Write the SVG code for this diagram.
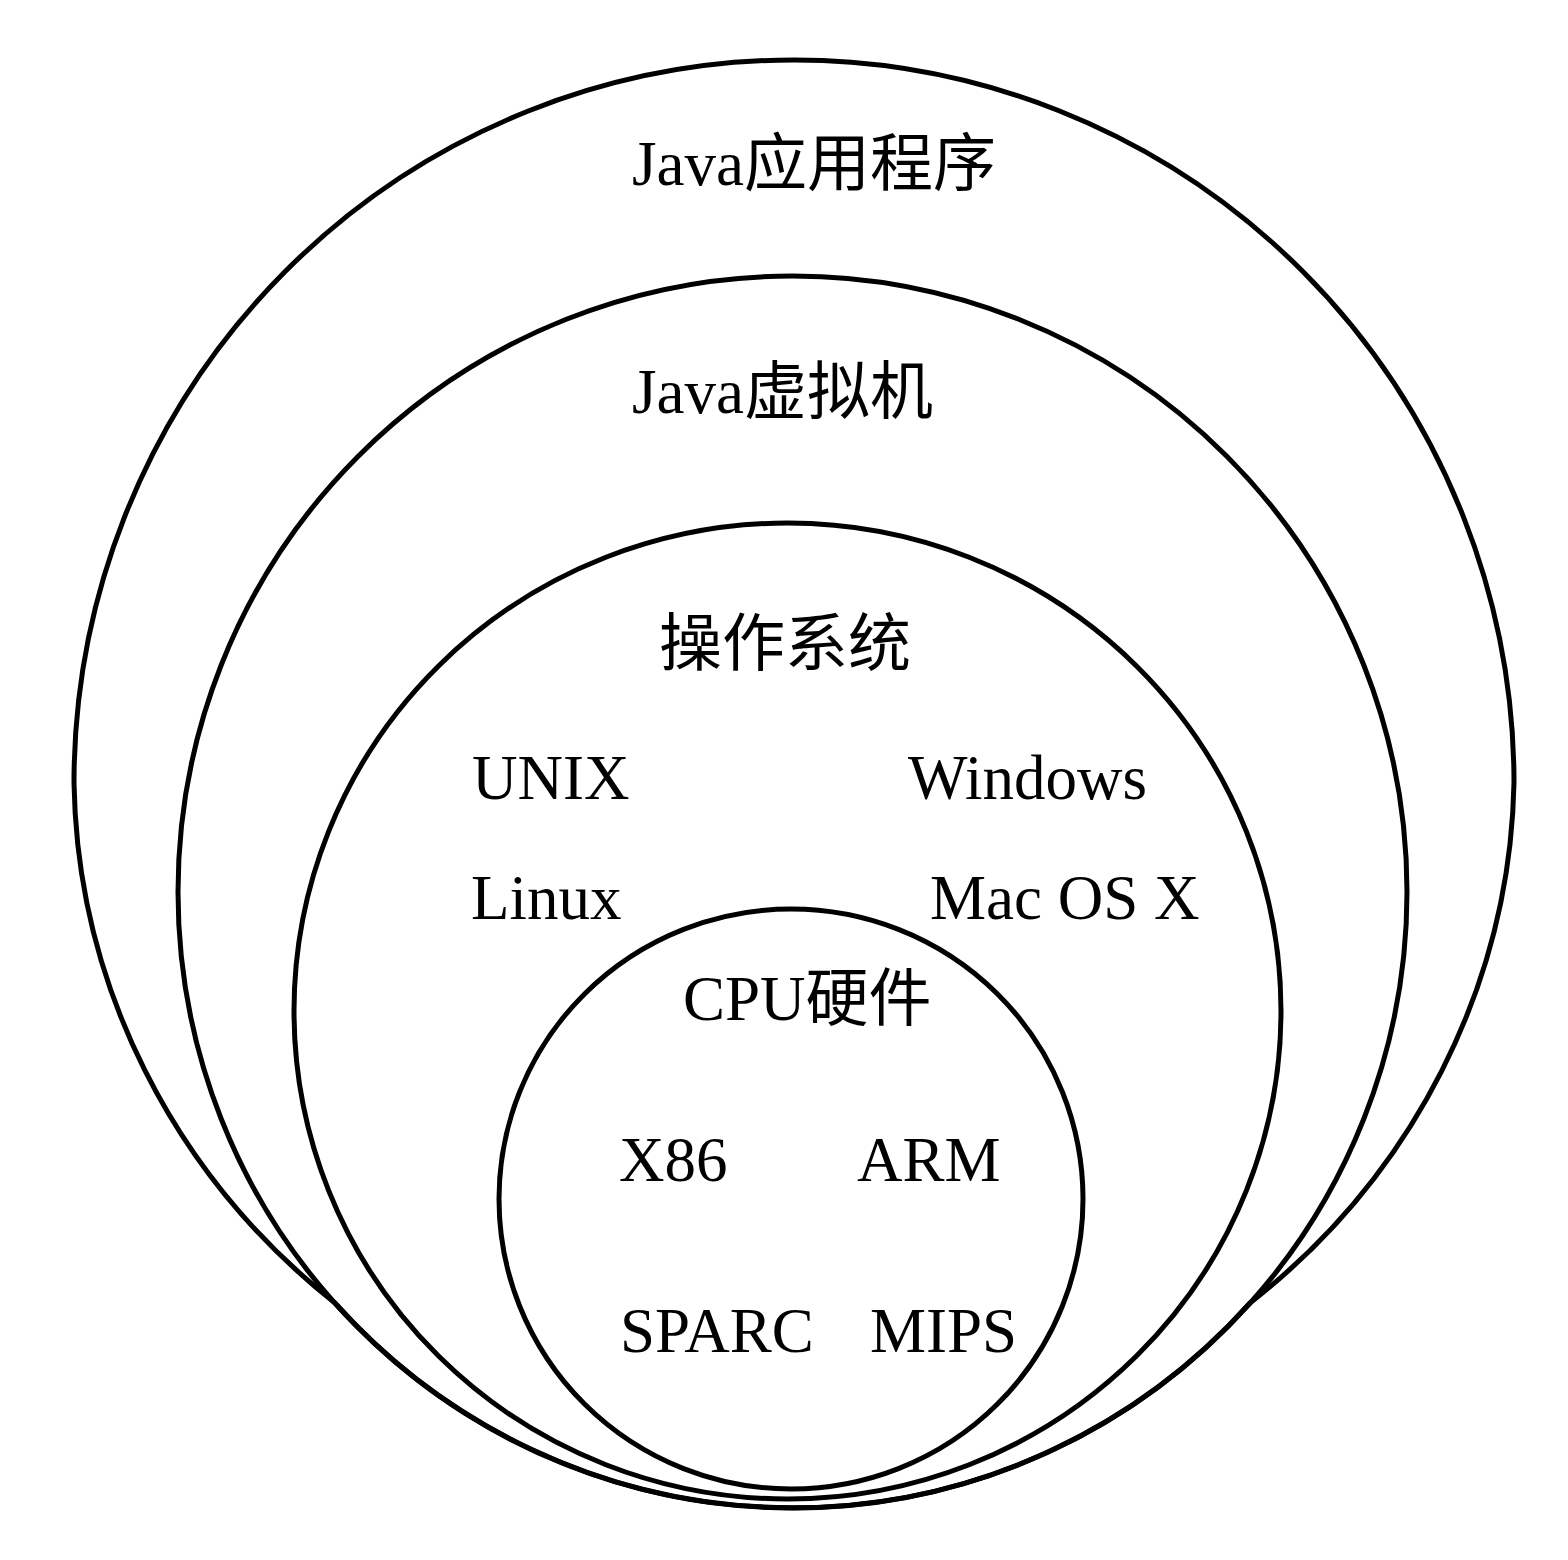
<svg xmlns="http://www.w3.org/2000/svg" width="1568" height="1560" viewBox="0 0 1568 1560">
<style>
.shape{fill:none;stroke:#000;stroke-width:5}
.lbl{font-family:"Liberation Serif","Noto Sans CJK SC",serif;font-size:63px;fill:#000}
</style>
<rect x="0" y="0" width="1568" height="1560" fill="#fff"/>
<g id="java-app">
<path class="shape" d="M 335,1303 A 720 689 0 0 1 74,783 A 720 723 0 0 1 794,60 A 720 723 0 0 1 1514,783 A 720 689 0 0 1 1250,1303 A 614.5 616 0 0 1 335,1303 Z"/>
<text class="lbl" x="632" y="185">Java应用程序</text>
</g>
<g id="jvm">
<ellipse class="shape" cx="792.5" cy="892" rx="614.5" ry="616"/>
<text class="lbl" x="632" y="413">Java虚拟机</text>
</g>
<g id="os">
<ellipse class="shape" cx="787.5" cy="1011" rx="493.5" ry="488"/>
<text class="lbl" x="659" y="665">操作系统</text>
<text class="lbl" x="472" y="799">UNIX</text>
<text class="lbl" x="908" y="799">Windows</text>
<text class="lbl" x="471" y="919">Linux</text>
<text class="lbl" x="930" y="919">Mac OS X</text>
</g>
<g id="cpu">
<ellipse class="shape" cx="791" cy="1199" rx="292" ry="290"/>
<text class="lbl" x="683" y="1020">CPU硬件</text>
<text class="lbl" x="619" y="1181">X86</text>
<text class="lbl" x="857" y="1181">ARM</text>
<text class="lbl" x="620" y="1352">SPARC</text>
<text class="lbl" x="870" y="1352">MIPS</text>
</g>
<g id="connectors"/>
</svg>
